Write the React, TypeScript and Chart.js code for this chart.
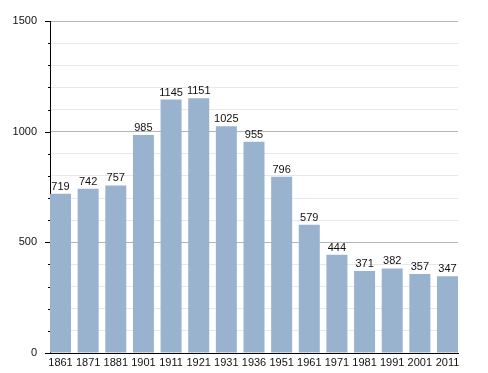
import React, { useEffect, useRef } from "react";
import { Chart, registerables } from "chart.js";

Chart.register(...registerables);

const years = ["1861", "1871", "1881", "1901", "1911", "1921", "1931", "1936", "1951", "1961", "1971", "1981", "1991", "2001", "2011"];
const population = [719, 742, 757, 985, 1145, 1151, 1025, 955, 796, 579, 444, 371, 382, 357, 347];
const yMajorTicks = [0, 500, 1000, 1500];

const FONT = "'Liberation Sans', Arial, sans-serif";

const overlayPlugin = {
  id: "overlay",
  afterDatasetsDraw(chart: any) {
    const { ctx } = chart;
    const meta = chart.getDatasetMeta(0);
    ctx.save();
    ctx.fillStyle = "#111";
    ctx.font = `11px ${FONT}`;
    ctx.textAlign = "center";
    ctx.textBaseline = "alphabetic";
    meta.data.forEach((bar: any, i: number) => {
      ctx.fillText(String(population[i]), bar.x, bar.y - 4);
    });
    // y tick marks
    const yScale = chart.scales.y;
    const left = chart.chartArea.left;
    ctx.strokeStyle = "#000";
    ctx.lineWidth = 1;
    for (let v = 0; v <= 1500; v += 100) {
      const y = Math.round(yScale.getPixelForValue(v)) + 0.5;
      const len = yMajorTicks.includes(v) ? 5 : 2;
      ctx.beginPath();
      ctx.moveTo(left - len, y);
      ctx.lineTo(left, y);
      ctx.stroke();
    }
    ctx.restore();
  },
};

export default function App() {
  const ref = useRef<HTMLCanvasElement>(null);
  useEffect(() => {
    document.body.style.margin = "0";
    const chart = new Chart(ref.current!, {
      type: "bar",
      data: {
        datasets: [
          {
            data: population.map((v, i) => ({ x: i, y: v })),
            backgroundColor: "#99b3cf",
            borderWidth: 0,
            barPercentage: 1,
            categoryPercentage: 0.76,
          },
        ],
      },
      options: {
        responsive: false,
        animation: false,
        devicePixelRatio: 1,
        layout: { padding: { top: 21, right: 30, left: 0, bottom: 0 } },
        plugins: { legend: { display: false }, tooltip: { enabled: false } },
        scales: {
          x: {
            type: "linear",
            min: -0.38,
            max: 14.38,
            offset: false,
            grid: { display: false, drawTicks: false },
            border: { display: true, color: "#000", width: 1 },
            afterBuildTicks: (scale: any) => {
              scale.ticks = years.map((_, i) => ({ value: i }));
            },
            afterFit: (scale: any) => {
              scale.height = 20;
            },
            ticks: {
              autoSkip: false,
              maxRotation: 0,
              padding: 3,
              color: "#111",
              font: { family: FONT, size: 11 },
              callback: (v: any) => years[Math.round(v)] ?? "",
            },
          },
          y: {
            min: 0,
            max: 1500,
            grid: {
              drawTicks: false,
              color: (c: any) => (c.tick && c.tick.value % 500 === 0 ? "#b4b4b4" : "#e8e8e8"),
            },
            border: { display: true, color: "#000", width: 1 },
            afterFit: (scale: any) => {
              scale.width = 50;
            },
            ticks: {
              stepSize: 100,
              padding: 13,
              color: "#111",
              font: { family: FONT, size: 11 },
              callback: (v: any) => (Number(v) % 500 === 0 ? String(v) : ""),
            },
          },
        },
      },
      plugins: [overlayPlugin],
    });
    return () => chart.destroy();
  }, []);
  return (
    <div style={{ width: 488, height: 373, background: "#fff" }}>
      <canvas ref={ref} width={488} height={373} />
    </div>
  );
}
